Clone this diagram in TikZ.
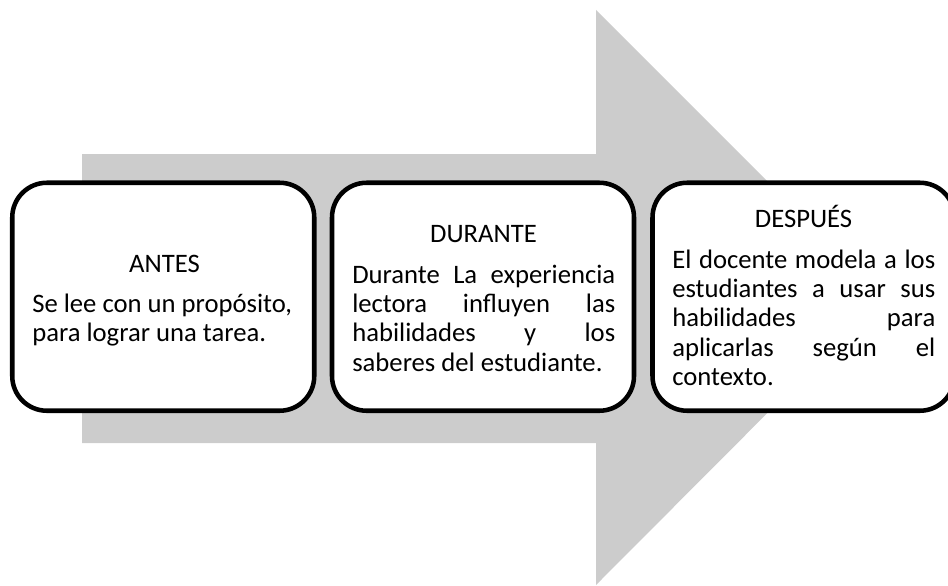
\documentclass[tikz,border=0pt]{standalone}
\usepackage{fontspec}
\setmainfont{Carlito}
\definecolor{arrowgray}{RGB}{204,204,204}
\newcommand{\jline}[1]{\hbox to\hsize{#1}}
\begin{document}
\begin{tikzpicture}[x=0.75pt,y=-0.75pt,
  stage/.style={draw=black, line width=3.4pt, fill=white, rounded corners=26pt,
    minimum width=226.5pt, minimum height=171pt, inner sep=0pt},
  head/.style={anchor=base, inner sep=0pt, font=\fontsize{20}{22}\selectfont},
  body/.style={anchor=base west, inner sep=0pt, font=\fontsize{20}{22}\selectfont}]
\path[use as bounding box] (0,0) rectangle (948,585);
\clip (0,0) rectangle (948,585);
% big arrow
\fill[arrowgray] (82,154) -- (596,154) -- (596,10) -- (883,297) -- (596,585)
  -- (596,443) -- (82,443) -- cycle;
% boxes
\node[stage] (antes) at (163.25,296.75) {};
\node[stage] (durante) at (483,296.75) {};
\node[stage] (despues) at (803.5,296.75) {};
% texts
\node[head] (antesT) at (164.5,272) {ANTES};
\node[body] (antesB) at (32,312) {\vtop{\hsize=199pt\baselineskip=22pt
  \hbox{Se lee con un propósito,}
  \hbox{para lograr una tarea.}}};
\node[head] (duranteT) at (483.5,242) {DURANTE};
\node[body] (duranteB) at (352,283) {\vtop{\hsize=197.25pt\baselineskip=22pt
  \jline{Durante\hfill La\hfill experiencia}
  \jline{lectora\hfill influyen\hfill las}
  \jline{habilidades\hfill y\hfill los}
  \hbox{saberes del estudiante.}}};
\node[head] (despuesT) at (803.5,227) {DESPUÉS};
\node[body] (despuesB) at (672,268) {\vtop{\hsize=197.25pt\baselineskip=22pt
  \jline{El\hfill docente\hfill modela\hfill a\hfill los}
  \jline{estudiantes\hfill a\hfill usar\hfill sus}
  \jline{habilidades\hfill para}
  \jline{aplicarlas\hfill según\hfill el}
  \hbox{contexto.}}};
\end{tikzpicture}
\end{document}
